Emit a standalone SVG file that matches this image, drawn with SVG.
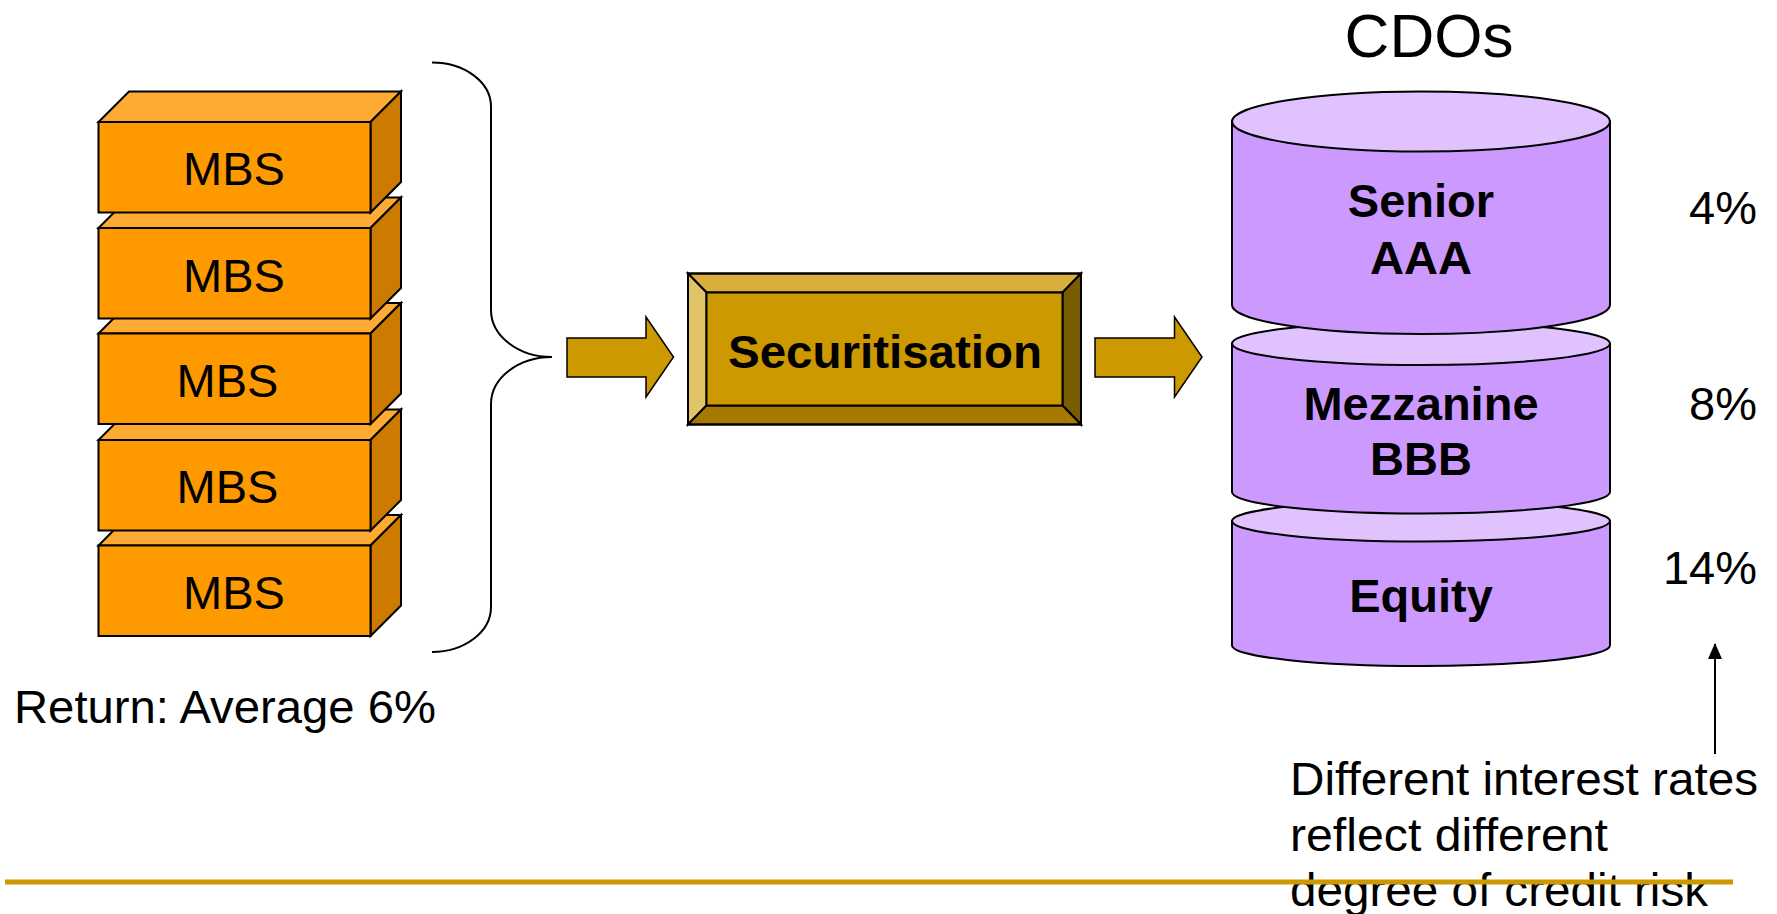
<svg xmlns="http://www.w3.org/2000/svg" width="1777" height="914" viewBox="0 0 1777 914">
  <defs>
    <marker id="tip" viewBox="0 0 16 14" refX="15" refY="7" markerWidth="16" markerHeight="14" markerUnits="userSpaceOnUse" orient="auto">
      <path d="M0,0 L16,7 L0,14 Z" fill="#000"/>
    </marker>
  </defs>
  <style>
    text { font-family: "Liberation Sans", Arial, sans-serif; fill: #000; }
    .lbl { font-size: 47px; }
    .note { font-size: 46px; }
    .mbs { font-size: 47px; text-anchor: middle; }
    .bold { font-size: 47px; font-weight: bold; text-anchor: middle; }
    .pct { font-size: 47px; text-anchor: end; }
    .ol { stroke: #000; stroke-width: 2; stroke-linejoin: miter; }
    .front { fill: #FF9900; }
    .top { fill: #FFAB33; }
    .side { fill: #CC7A00; }
    .cylside { fill: #CC99FF; }
    .cyltop { fill: #E0C2FF; }
    .gold { fill: #CC9900; }
  </style>

  <rect width="1777" height="914" fill="#fff"/>

  <!-- MBS stack, drawn bottom-up so each upper block overlaps the one below -->
  <g id="mbs5">
    <path class="top ol" d="M98.5,545.5 L129,515 L401,515 L370.5,545.5 Z"/>
    <path class="side ol" d="M370.5,545.5 L401,515 L401,605.5 L370.5,636 Z"/>
    <rect class="front ol" x="98.5" y="545.5" width="272" height="90.5"/>
    <text class="mbs" x="234" y="608.5">MBS</text>
  </g>
  <g id="mbs4">
    <path class="top ol" d="M98.5,440 L129,409.5 L401,409.5 L370.5,440 Z"/>
    <path class="side ol" d="M370.5,440 L401,409.5 L401,500 L370.5,530.5 Z"/>
    <rect class="front ol" x="98.5" y="440" width="272" height="90.5"/>
    <text class="mbs" x="227.5" y="503">MBS</text>
  </g>
  <g id="mbs3">
    <path class="top ol" d="M98.5,333.5 L129,303 L401,303 L370.5,333.5 Z"/>
    <path class="side ol" d="M370.5,333.5 L401,303 L401,393.5 L370.5,424 Z"/>
    <rect class="front ol" x="98.5" y="333.5" width="272" height="90.5"/>
    <text class="mbs" x="227.5" y="397">MBS</text>
  </g>
  <g id="mbs2">
    <path class="top ol" d="M98.5,228 L129,197.5 L401,197.5 L370.5,228 Z"/>
    <path class="side ol" d="M370.5,228 L401,197.5 L401,288 L370.5,318.5 Z"/>
    <rect class="front ol" x="98.5" y="228" width="272" height="90.5"/>
    <text class="mbs" x="234" y="292">MBS</text>
  </g>
  <g id="mbs1">
    <path class="top ol" d="M98.5,122 L129,91.5 L401,91.5 L370.5,122 Z"/>
    <path class="side ol" d="M370.5,122 L401,91.5 L401,182 L370.5,212.5 Z"/>
    <rect class="front ol" x="98.5" y="122" width="272" height="90.5"/>
    <text class="mbs" x="234" y="185">MBS</text>
  </g>

  <g id="return-label">
    <text class="lbl" x="14" y="722.5" textLength="422" lengthAdjust="spacingAndGlyphs">Return: Average 6%</text>
  </g>

  <!-- securitisation block with bevelled frame -->
  <g id="securitisation">
    <rect x="688" y="273.5" width="393" height="151" fill="#CC9900"/>
    <path d="M688,273.5 L1081,273.5 L1062.5,292.5 L706.5,292.5 Z" fill="#DAAE3C" class="ol" stroke-width="1.5"/>
    <path d="M688,273.5 L706.5,292.5 L706.5,405.5 L688,424.5 Z" fill="#E2C468" class="ol" stroke-width="1.5"/>
    <path d="M1081,273.5 L1081,424.5 L1062.5,405.5 L1062.5,292.5 Z" fill="#7A5C00" class="ol" stroke-width="1.5"/>
    <path d="M688,424.5 L706.5,405.5 L1062.5,405.5 L1081,424.5 Z" fill="#A67A00" class="ol" stroke-width="1.5"/>
    <rect x="706.5" y="292.5" width="356" height="113" fill="#CC9900" class="ol" stroke-width="1.5"/>
    <rect x="688" y="273.5" width="393" height="151" fill="none" class="ol"/>
    <text class="bold" x="885" y="367.5" textLength="314" lengthAdjust="spacingAndGlyphs">Securitisation</text>
  </g>

  <!-- tranche cylinders, lowest first -->
  <g id="equity">
    <path class="cylside ol" d="M1232,521 V645.5 A189,20.5 0 0 0 1610,645.5 V521 Z"/>
    <ellipse class="cyltop ol" cx="1421" cy="521" rx="189" ry="20.5"/>
    <text class="bold" x="1421" y="612">Equity</text>
  </g>
  <g id="mezzanine">
    <path class="cylside ol" d="M1232,343.5 V492 A189,21.5 0 0 0 1610,492 V343.5 Z"/>
    <ellipse class="cyltop ol" cx="1421" cy="343.5" rx="189" ry="21.5"/>
    <text class="bold" x="1421" y="420">Mezzanine</text>
    <text class="bold" x="1421" y="475">BBB</text>
  </g>
  <g id="senior">
    <path class="cylside ol" d="M1232,121.5 V305 A189,29 0 0 0 1610,305 V121.5 Z"/>
    <ellipse class="cyltop ol" cx="1421" cy="121.5" rx="189" ry="30"/>
    <text class="bold" x="1421" y="216.5">Senior</text>
    <text class="bold" x="1421" y="274">AAA</text>
  </g>

  <g id="cdos-title">
    <text x="1429" y="57" font-size="62" text-anchor="middle">CDOs</text>
  </g>

  <g id="rates">
    <text class="pct" x="1757" y="224">4%</text>
    <text class="pct" x="1757" y="420">8%</text>
    <text class="pct" x="1757" y="583.5">14%</text>
  </g>

  <g id="note">
    <text class="note" x="1290" y="795" textLength="468" lengthAdjust="spacingAndGlyphs">Different interest rates</text>
    <text class="note" x="1290" y="850.5" textLength="318" lengthAdjust="spacingAndGlyphs">reflect different</text>
    <text class="note" x="1290" y="906" textLength="418" lengthAdjust="spacingAndGlyphs">degree of credit risk</text>
  </g>

  <!-- connectors -->
  <g id="connectors">
    <path d="M432,62.5 A59,44 0 0 1 491,106.5 L491,310 A61,47 0 0 0 552,357 A61,47 0 0 0 491,404 L491,607 A59,45 0 0 1 432,652" fill="none" stroke="#000" stroke-width="2"/>
    <path class="gold" d="M567,338 L646,338 L646,317 L673.5,357 L646,397 L646,377 L567,377 Z" stroke="#000" stroke-width="1.5"/>
    <path class="gold" d="M1095,338 L1174.5,338 L1174.5,317 L1202,357 L1174.5,397 L1174.5,377 L1095,377 Z" stroke="#000" stroke-width="1.5"/>
    <line x1="1715" y1="754" x2="1715" y2="644" stroke="#000" stroke-width="2" marker-end="url(#tip)"/>
  </g>

  <!-- footer rule -->
  <line x1="5" y1="882" x2="1733" y2="882" stroke="#CC9900" stroke-width="5"/>
</svg>
